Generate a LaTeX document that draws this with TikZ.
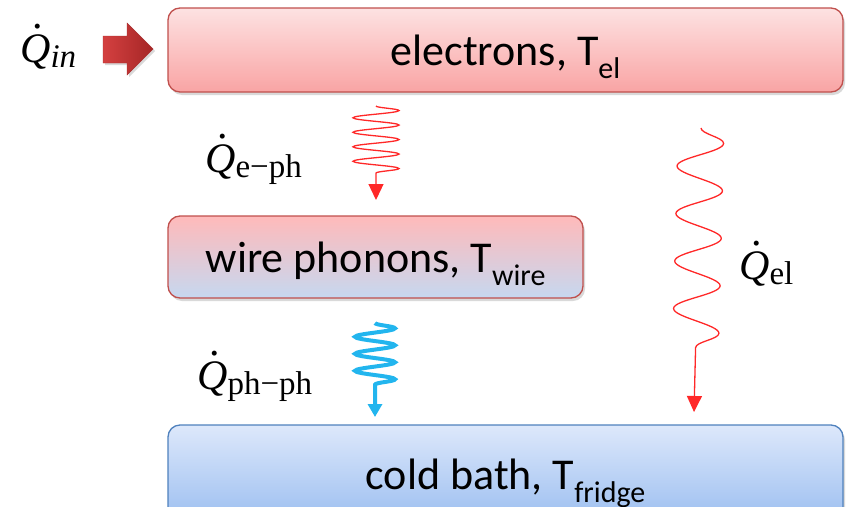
\documentclass[tikz,border=0pt]{standalone}
\usepackage{fontspec}
\setmainfont{Carlito}
\newfontfamily\qfont{Liberation Serif}
\usetikzlibrary{arrows.meta,decorations.pathmorphing,shadows}
\definecolor{redborder}{RGB}{192,80,77}
\definecolor{blueborder}{RGB}{79,129,189}
\definecolor{wavered}{RGB}{255,40,40}
\definecolor{waveblue}{RGB}{34,181,238}
\newcommand\mysubtxt[1]{\raisebox{-0.3em}{\fontsize{30}{32}\selectfont #1}}
\newcommand\qdotsym{\makebox[0pt][l]{\hspace{0.30em}\raisebox{0.80em}{.}}{\itshape Q}}
\newcommand\qsub[1]{\raisebox{-0.12em}{\fontsize{33}{35}\selectfont #1}}
\begin{document}
\begin{tikzpicture}[x=1pt,y=-1pt,
  box/.style={rounded corners=12pt, line width=1.3pt, text height=30pt, text depth=0pt,
    font=\fontsize{44}{50}\selectfont,
    drop shadow={opacity=0.3,shadow xshift=2pt,shadow yshift=-3pt}},
  qlabel/.style={anchor=base west, inner sep=0pt, font=\qfont\fontsize{42}{46}\selectfont},
  wave/.style={decorate, line width=1.3pt, draw=wavered,
    -{Triangle[length=16pt,width=15pt]}},
]
\useasboundingbox (0,0) rectangle (846,506);

% boxes
\node[box, draw=redborder, top color={rgb,255:red,253;green,226;blue,226},
  bottom color={rgb,255:red,249;green,164;blue,164},
  minimum width=675pt, minimum height=84pt] (el) at (505.5,50) {electrons, T\mysubtxt{el}};
\node[box, draw=redborder, top color={rgb,255:red,255;green,186;blue,186},
  bottom color={rgb,255:red,198;green,216;blue,240},
  minimum width=415pt, minimum height=82pt] (wire) at (375.5,257) {wire phonons, T\mysubtxt{wire}};
\node[box, draw=blueborder, top color={rgb,255:red,221;green,232;blue,251},
  bottom color={rgb,255:red,155;green,190;blue,240},
  minimum width=675pt, minimum height=98pt] (bath) at (505.5,474) {cold bath, T\mysubtxt{fridge}};

% labels
\node[qlabel] (qin) at (20,62) {\qdotsym\qsub{\itshape in}};
\node[qlabel] (qeph) at (205,172) {\qdotsym\qsub{e−ph}};
\node[qlabel] (qphph) at (197,389) {\qdotsym\qsub{ph−ph}};
\node[qlabel] (qel) at (739,279) {\qdotsym\qsub{el}};

% block arrow
\path[left color={rgb,255:red,212;green,64;blue,64}, right color={rgb,255:red,165;green,38;blue,38},
  draw={rgb,255:red,170;green,50;blue,50}, line width=0.4pt,
  drop shadow={opacity=0.3,shadow xshift=2pt,shadow yshift=-2pt}]
  (103,36) -- (127,36) -- (127,23) -- (153,49) -- (127,75) -- (127,63) -- (103,63) -- cycle;

% wavy arrows
\coordinate (w1s) at (376,106);
\coordinate (w1e) at (376,200);
\coordinate (w2s) at (701,128);
\coordinate (w2e) at (694,412);
\coordinate (w3s) at (375,323);
\coordinate (w3e) at (375,417);
\draw[wave, decoration={snake,amplitude=23pt,segment length=14.5pt,post length=22pt}] (w1s) -- (w1e);
\draw[wave, decoration={snake,amplitude=23pt,segment length=47.5pt,post length=62pt}] (w2s) -- (w2e);
\draw[wave, draw=waveblue, line width=4pt, decoration={snake,amplitude=20pt,segment length=17pt,post length=27pt},
  -{Triangle[length=13pt,width=14pt]}] (w3s) -- (w3e);
\end{tikzpicture}
\end{document}
